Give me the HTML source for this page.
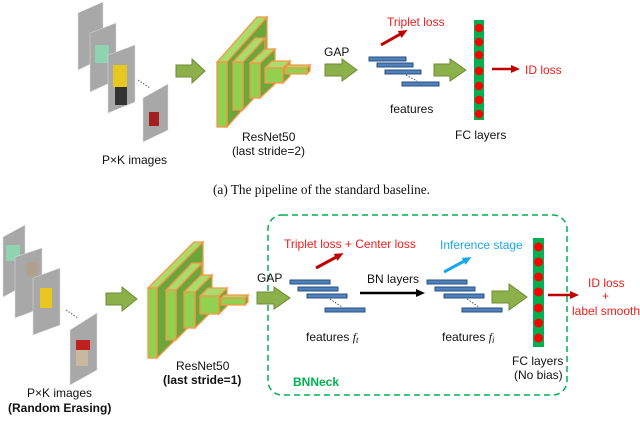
<!DOCTYPE html>
<html><head><meta charset="utf-8"><style>
html,body{margin:0;padding:0;background:#fff;width:640px;height:437px;overflow:hidden}
svg{display:block}
.s{font-family:"Liberation Sans",sans-serif;font-size:12px;fill:#111}
.r{fill:#f01c1c}
.c{fill:#1aa7ec}
.cap{font-family:"Liberation Serif",serif;font-size:13.5px;fill:#111}
.fr{fill:#92d050;stroke:#f79646;stroke-width:1.3}
.sd{fill:#6aa63a;stroke:#f79646;stroke-width:1.3}
.tp{fill:#a8dc6c;stroke:#f79646;stroke-width:1.3}
.ga{fill:#8cb04a;stroke:#6d8c36;stroke-width:1}
.bar{fill:#4f81bd;stroke:#2a4f80;stroke-width:1}
.img{fill:#a8a8a8;stroke:#ddd;stroke-width:0.5}
</style></head><body>
<svg width="640" height="437" viewBox="0 0 640 437" xmlns="http://www.w3.org/2000/svg">
<defs>
<marker id="mr" markerUnits="userSpaceOnUse" markerWidth="9" markerHeight="8" refX="5" refY="4" orient="auto"><path d="M0,0 L9,4 L0,8z" fill="#c00000"/></marker>
<marker id="mk" markerUnits="userSpaceOnUse" markerWidth="9" markerHeight="8" refX="5" refY="4" orient="auto"><path d="M0,0 L9,4 L0,8z" fill="#000"/></marker>
<marker id="mc" markerUnits="userSpaceOnUse" markerWidth="9" markerHeight="8" refX="5" refY="4" orient="auto"><path d="M0,0 L9,4 L0,8z" fill="#1aa7ec"/></marker>
</defs>

<!-- TOP images -->
<g>
<polygon class="img" points="78,13 103,2 103,58 78,70"/>
<polygon class="img" points="90,33 116,23 116,80 90,92"/>
<rect x="95" y="45" width="14" height="18" fill="#8fd3b0"/>
<polygon class="img" points="108,55 135,45 135,102 108,113"/>
<rect x="113" y="65" width="14" height="22" fill="#e8c820"/>
<rect x="115" y="87" width="12" height="18" fill="#333"/>
<polygon class="img" points="143,98 168,84 168,130 143,142"/>
<rect x="149" y="112" width="10" height="14" fill="#a02020"/>
<line x1="138" y1="80" x2="150" y2="88" stroke="#555" stroke-dasharray="1.5,1.5"/>
</g>
<text class="s" x="102" y="164">P×K images</text>

<polygon class="ga" points="176,65 192,65 192,59 205,71 192,83 192,77 176,77"/>

<g>
<polygon class="sd" points="227,62 267,17 267,82 227,127"/>
<polygon class="tp" points="217,62 257,17 267,17 227,62"/>
<rect class="fr" x="217" y="62" width="10" height="65"/>
<polygon class="sd" points="243,62 265,38 265,86 243,110"/>
<polygon class="tp" points="233,62 255,38 265,38 243,62"/>
<rect class="fr" x="233" y="62" width="10" height="48"/>
<polygon class="sd" points="260,63 275,49 275,84 260,98"/>
<polygon class="tp" points="250,63 265,49 275,49 260,63"/>
<rect class="fr" x="250" y="63" width="10" height="35"/>
<polygon class="sd" points="283,68 290,61 290,76 283,83"/>
<polygon class="tp" points="265,68 272,61 290,61 283,68"/>
<rect class="fr" x="265" y="68" width="18" height="15"/>
<polygon class="sd" points="307,68 310,65 310,71 307,74"/>
<polygon class="tp" points="285,68 288,65 310,65 307,68"/>
<rect class="fr" x="285" y="68" width="22" height="6"/>
</g>
<text class="s" x="242" y="141">ResNet50</text>
<text class="s" x="232" y="155">(last stride=2)</text>

<text class="s" x="324" y="56">GAP</text>
<polygon class="ga" points="325,64 342,64 342,59 357,70 342,81 342,76 325,76"/>
<rect class="bar" x="369" y="57" width="37" height="4"/>
<rect class="bar" x="377" y="63" width="36" height="4"/>
<rect class="bar" x="385" y="70" width="36" height="4"/>
<rect class="bar" x="402" y="82" width="37" height="4"/>
<line x1="406" y1="75" x2="417" y2="81" stroke="#555" stroke-dasharray="1.5,1.5"/>
<line x1="381" y1="45" x2="404" y2="32" stroke="#c00000" stroke-width="3" marker-end="url(#mr)"/>
<text class="s r" x="387" y="26">Triplet loss</text>
<text class="s" x="390" y="113">features</text>
<polygon class="ga" points="434,64 450,64 450,59 466,70 450,81 450,76 434,76"/>
<rect x="474" y="20" width="10" height="100" fill="#00b050"/>
<g fill="#ff0000"><circle cx="479" cy="28" r="4.3"/><circle cx="479" cy="42" r="4.3"/><circle cx="479" cy="55" r="4.3"/><circle cx="479" cy="71" r="4.3"/><circle cx="479" cy="86" r="4.3"/><circle cx="479" cy="100" r="4.3"/><circle cx="479" cy="114" r="4.3"/></g>
<line x1="492" y1="69" x2="516" y2="69" stroke="#c00000" stroke-width="2.5" marker-end="url(#mr)"/>
<text class="s r" x="525" y="74">ID loss</text>
<text class="s" x="455" y="139">FC layers</text>

<text class="cap" x="213" y="194" textLength="217" lengthAdjust="spacingAndGlyphs">(a)  The pipeline of the standard baseline.</text>

<g>
<polygon class="img" points="3,237 25,225 25,285 3,297"/>
<rect x="6" y="245" width="14" height="16" fill="#8fd3b0"/>
<polygon class="img" points="15,257 42,248 42,308 15,318"/>
<rect x="26" y="262" width="12" height="14" fill="#b0a090"/>
<polygon class="img" points="33,278 60,268 60,325 33,335"/>
<rect x="40" y="288" width="12" height="20" fill="#e8c820"/>
<polygon class="img" points="70,330 97,313 97,370 70,385"/>
<rect x="76" y="340" width="14" height="10" fill="#c02020"/>
<rect x="76" y="350" width="12" height="16" fill="#c8b8a0"/>
<line x1="66" y1="310" x2="78" y2="318" stroke="#555" stroke-dasharray="1.5,1.5"/>
</g>
<text class="s" x="27" y="397">P×K images</text>
<text class="s" x="8" y="412" style="font-weight:bold">(Random Erasing)</text>

<polygon class="ga" points="106,293 122,293 122,287 137,299 122,311 122,305 106,305"/>

<g>
<polygon class="sd" points="157,288 203,242 203,312 157,358"/>
<polygon class="tp" points="148,288 194,242 203,242 157,288"/>
<rect class="fr" x="148" y="288" width="9" height="70"/>
<polygon class="sd" points="176,290 202,263 202,313 176,340"/>
<polygon class="tp" points="166,290 192,263 202,263 176,290"/>
<rect class="fr" x="166" y="290" width="10" height="50"/>
<polygon class="sd" points="195,292 212,275 212,311 195,328"/>
<polygon class="tp" points="184,292 201,275 212,275 195,292"/>
<rect class="fr" x="184" y="292" width="11" height="36"/>
<polygon class="sd" points="219,296 227,288 227,306 219,314"/>
<polygon class="tp" points="200,296 208,288 227,288 219,296"/>
<rect class="fr" x="200" y="296" width="19" height="18"/>
<polygon class="sd" points="245,298 248,295 248,302 245,305"/>
<polygon class="tp" points="221,298 224,295 248,295 245,298"/>
<rect class="fr" x="221" y="298" width="24" height="7"/>
</g>
<text class="s" x="176" y="370">ResNet50</text>
<text class="s" x="163" y="384" style="font-weight:bold">(last stride=1)</text>

<rect x="268" y="215" width="299" height="180" rx="14" fill="none" stroke="#00b050" stroke-width="1.5" stroke-dasharray="6,4"/>

<text class="s" x="257" y="282">GAP</text>
<polygon class="ga" points="257,292 274,292 274,287 290,298 274,309 274,304 257,304"/>
<rect class="bar" x="290" y="280" width="40" height="4"/>
<rect class="bar" x="298" y="287" width="40" height="4"/>
<rect class="bar" x="307" y="294" width="40" height="4"/>
<rect class="bar" x="325" y="308" width="40" height="4"/>
<line x1="330" y1="299" x2="342" y2="307" stroke="#555" stroke-dasharray="1.5,1.5"/>
<line x1="316" y1="268" x2="340" y2="255" stroke="#c00000" stroke-width="3" marker-end="url(#mr)"/>
<text class="s r" x="284" y="248">Triplet loss + Center loss</text>
<text class="s" x="367" y="283">BN layers</text>
<line x1="360" y1="293" x2="421" y2="293" stroke="#000" stroke-width="2.5" marker-end="url(#mk)"/>
<rect class="bar" x="427" y="280" width="40" height="4"/>
<rect class="bar" x="435" y="287" width="40" height="4"/>
<rect class="bar" x="444" y="294" width="40" height="4"/>
<rect class="bar" x="462" y="308" width="40" height="4"/>
<line x1="467" y1="299" x2="479" y2="307" stroke="#555" stroke-dasharray="1.5,1.5"/>
<line x1="444" y1="272" x2="468" y2="259" stroke="#1aa7ec" stroke-width="3" marker-end="url(#mc)"/>
<text class="s c" x="440" y="249">Inference stage</text>
<text class="s" x="306" y="341">features <tspan font-family="Liberation Serif" font-style="italic">f<tspan font-size="9" dy="2">t</tspan></tspan></text>
<text class="s" x="442" y="341">features <tspan font-family="Liberation Serif" font-style="italic">f<tspan font-size="9" dy="2">i</tspan></tspan></text>
<polygon class="ga" points="492,291 509,291 509,284 527,297 509,310 509,303 492,303"/>
<rect x="533" y="238" width="11" height="109" fill="#00b050"/>
<g fill="#ff0000"><circle cx="538.5" cy="247" r="4.5"/><circle cx="538.5" cy="262" r="4.5"/><circle cx="538.5" cy="277" r="4.5"/><circle cx="538.5" cy="292" r="4.5"/><circle cx="538.5" cy="308" r="4.5"/><circle cx="538.5" cy="323" r="4.5"/><circle cx="538.5" cy="338" r="4.5"/></g>
<line x1="548" y1="295" x2="575" y2="295" stroke="#c00000" stroke-width="2.5" marker-end="url(#mr)"/>
<text class="s r" x="588" y="287">ID loss</text>
<text class="s r" x="602" y="300">+</text>
<text class="s r" x="572" y="315">label smooth</text>
<text class="s" x="512" y="365">FC layers</text>
<text class="s" x="514" y="379">(No bias)</text>
<text class="s" x="293" y="386" style="font-weight:bold;fill:#00b050">BNNeck</text>

<text class="cap" x="213" y="447">(b)  The pipeline of our modified baseline.</text>
</svg>
</body></html>
